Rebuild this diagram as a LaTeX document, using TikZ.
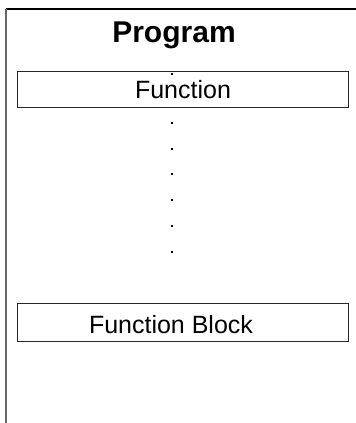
\documentclass[tikz,border=0pt]{standalone}
\usepackage{fontspec}
\setmainfont{Liberation Sans}
\begin{document}
\begin{tikzpicture}[x=1pt,y=-1pt,
  blockbox/.style={draw=black!85,line width=1pt,minimum width=331pt,inner sep=0pt},
  lbl/.style={anchor=base,inner sep=0pt,font=\fontsize{25}{25}\selectfont},
  dotmark/.style={fill=black,minimum size=2.5pt,inner sep=0pt,rectangle}]
\useasboundingbox (0,0) rectangle (356,423);
% program frame: top and left edges only
\coordinate (ftl) at (6,9);
\coordinate (ftr) at (356,9);
\coordinate (fbl) at (6,423);
\draw[line width=1.6pt,black] (ftl) -- (ftr);
\draw[line width=1.6pt,black!60] (ftl) -- (fbl);
\node[anchor=base,inner sep=0pt,font=\bfseries\fontsize{30}{30}\selectfont] (prog) at (174,42) {Program};
% function row
\node[blockbox,minimum height=36pt] (fbox) at (182.5,89) {};
\node[lbl] (ftext) at (183,98) {Function};
\node[dotmark] (d0) at (172,74) {};
% dots
\foreach \i/\y in {1/123,2/149,3/174,4/200,5/226,6/252}
  \node[dotmark] (d\i) at (172,\y) {};
% function block row
\node[blockbox,minimum height=38pt] (bbox) at (182.5,322) {};
\node[lbl] (btext) at (171,333) {Function Block};
\end{tikzpicture}
\end{document}
